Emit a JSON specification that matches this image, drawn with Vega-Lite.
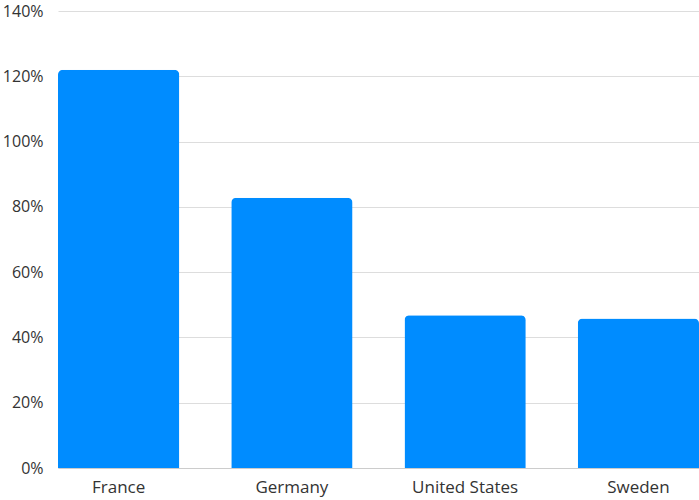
{
  "$schema": "https://vega.github.io/schema/vega-lite/v6.json",
  "width": 641,
  "height": 457,
  "autosize": "none",
  "padding": {"left": 58, "top": 11, "right": 0, "bottom": 32},
  "background": "white",
  "config": {
    "view": {"stroke": null},
    "font": "Open Sans"
  },
  "data": {
    "values": [
      {"country": "France", "value": 1.22},
      {"country": "Germany", "value": 0.828},
      {"country": "United States", "value": 0.468},
      {"country": "Sweden", "value": 0.458}
    ]
  },
  "mark": {"type": "bar", "color": "#008cff", "cornerRadiusTopLeft": 5, "cornerRadiusTopRight": 5},
  "encoding": {
    "x": {
      "field": "country",
      "type": "nominal",
      "sort": null,
      "scale": {"paddingInner": 0.3, "paddingOuter": 0},
      "axis": {
        "title": null,
        "labelAngle": 0,
        "ticks": false,
        "domain": true,
        "domainColor": "#cccccc",
        "labelFontSize": 17,
        "labelColor": "#333333",
        "labelPadding": 11
      }
    },
    "y": {
      "field": "value",
      "type": "quantitative",
      "scale": {"domain": [0, 1.4], "nice": false},
      "axis": {
        "title": null,
        "values": [0, 0.2, 0.4, 0.6, 0.8, 1.0, 1.2, 1.4],
        "format": ".0%",
        "ticks": false,
        "domain": false,
        "gridColor": "#dddddd",
        "labelFontSize": 16,
        "labelColor": "#333333",
        "labelPadding": 15
      }
    }
  }
}
